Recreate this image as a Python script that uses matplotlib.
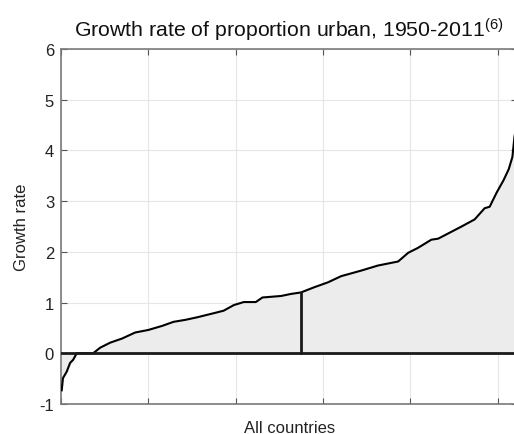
import numpy as np
import matplotlib
matplotlib.use("Agg")
import matplotlib.pyplot as plt

plt.rcParams['font.family'] = ['Liberation Sans', 'DejaVu Sans']
plt.rcParams['mathtext.default'] = 'regular'
plt.rcParams['axes.unicode_minus'] = False

# countries sorted by growth rate (rank along x)
rank = [0.4, 1.1, 3.3, 5.2, 6.9, 9.0, 18.4, 22.4, 28.2, 34.9, 42.5, 50.0,
        57.9, 64.4, 71.3, 78.0, 87.4, 93.1, 98.9, 104.6, 111.5, 115.3, 126.0,
        131.6, 137.4, 144.8, 152.9, 160.3, 171.8, 181.4, 193.0, 198.7, 204.4,
        212.0, 215.9, 229.3, 236.8, 242.5, 245.4, 249.4, 253.3, 256.3, 258.4,
        259.6, 260.5]
growth = [-0.73, -0.49, -0.36, -0.19, -0.13, 0.0, 0.0, 0.11, 0.21, 0.29, 0.41,
          0.46, 0.54, 0.62, 0.66, 0.71, 0.79, 0.84, 0.95, 1.01, 1.01, 1.10,
          1.13, 1.17, 1.20, 1.30, 1.40, 1.52, 1.63, 1.73, 1.81, 1.98, 2.08,
          2.24, 2.26, 2.50, 2.64, 2.86, 2.89, 3.17, 3.41, 3.63, 3.87, 4.27,
          4.45]
median_rank = 137.4
median_value = 1.19

x_ticks = [0, 50, 100, 150, 200, 250]
y_ticks = [-1, 0, 1, 2, 3, 4, 5, 6]

fig = plt.figure(figsize=(5.14, 4.35), dpi=100)
ax = fig.add_axes([0.1187, 0.069, 0.887, 0.816])

ax.fill_between(rank, growth, 0, color='#ececec', zorder=1)
ax.plot(rank, growth, color='black', linewidth=1.5, zorder=3)
ax.axhline(0, color='#1a1a1a', linewidth=2, zorder=4)
ax.plot([median_rank, median_rank], [0, median_value], color='#1a1a1a',
        linewidth=2, zorder=4)

ax.set_xlim(0, 261)
ax.set_ylim(-1, 6)
ax.set_xticks(x_ticks)
ax.set_xticklabels([])
ax.set_yticks(y_ticks)
ax.grid(True, color='#e6e6e6', linewidth=0.8, zorder=0)
ax.set_axisbelow(True)
ax.tick_params(direction='in', length=4, color='#555555', labelsize=12,
               labelcolor='#222222', top=True, right=True, pad=5)
for s in ax.spines.values():
    s.set_color('#7a7a7a')
    s.set_linewidth(1.2)

ax.set_xlabel('All countries', fontsize=12, color='#222222')
ax.xaxis.set_label_coords(0.502, -0.065)
ax.xaxis.label.set_va('center')
ax.set_ylabel('Growth rate', fontsize=12, color='#222222')
ax.yaxis.set_label_coords(-0.0877, 0.5)
ax.yaxis.label.set_va('center')
fig.text(0.562, 0.931, r'Growth rate of proportion urban, 1950-2011$^{(6)}$',
         ha='center', va='center', fontsize=15.3, color='#111111')

fig.savefig('out.png', dpi=100)
